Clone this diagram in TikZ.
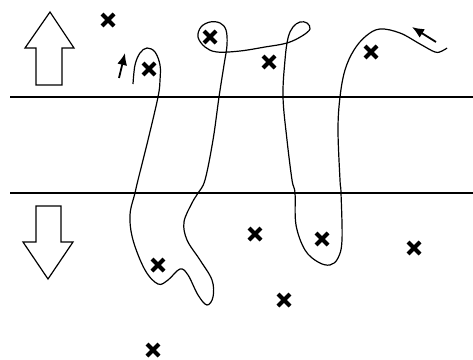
\documentclass[tikz,border=0pt]{standalone}
\usetikzlibrary{arrows.meta}
\begin{document}
\begin{tikzpicture}[x=1pt,y=-1pt,
  cross/.style={line width=4pt},
  curve/.style={line width=1.2pt, line join=round},
  bigarrow/.style={line width=1.2pt, line join=miter},
  level/.style={line width=2pt},
  smallarrow/.style={line width=1.8pt, -{Latex[length=12pt,width=10pt]}}]
\useasboundingbox (0,0) rectangle (473,359);
% horizontal lines
\draw[level] (10,97) -- (473,97);
\draw[level] (10,193) -- (473,193);
% up arrow
\draw[bigarrow] (36,85) -- (36,48) -- (25,48) -- (50,12) -- (74,48) -- (62,48) -- (62,85) -- cycle;
% down arrow
\draw[bigarrow] (36,206) -- (36,242) -- (23,242) -- (48,279) -- (73,242) -- (61,242) -- (61,206) -- cycle;
% crosses
\foreach \p in {(108,20),(149,69),(210,37),(269,62),(371,52),(158,265),(153,350),(255,234),(322,239),(414,248),(284,300)}{
  \draw[cross] \p ++(-6,-6) -- ++(12,12) \p ++(-6,6) -- ++(12,-12);
}
% small arrows
\draw[smallarrow] (119,78) -- (125,53);
\draw[smallarrow] (436,42) -- (412,27);
% the curve
\draw[curve] plot[smooth, tension=0.6] coordinates {
 (133,84) (135,65) (140,53) (147,48) (155,52) (160,65) (160,80) (158,97)
 (148,140) (138,180) (135,193) (130,215) (133,240) (145,270) (158,284)
 (168,280) (180,269) (188,275) (198,295) (207,305) (213,297) (212,280)
 (200,260) (187,240) (184,222) (192,203) (198,193) (205,180) (213,140)
 (219,97) (224,65) (227,45) (226,30) (220,23) (210,22) (201,27) (198,37)
 (205,47) (217,52) (240,51) (265,47) (287,43) (302,36) (310,29) (307,23)
 (300,22) (293,27) (288,38) (285,60) (283,97) (287,140) (292,180)
 (295,193) (296,225) (305,250) (318,262) (330,265) (338,258) (342,240)
 (341,193) (340,180) (338,130) (340,97) (345,70) (354,50) (366,36)
 (380,29) (400,33) (420,44) (435,52) (442,51) (447,48)};
\end{tikzpicture}
\end{document}
